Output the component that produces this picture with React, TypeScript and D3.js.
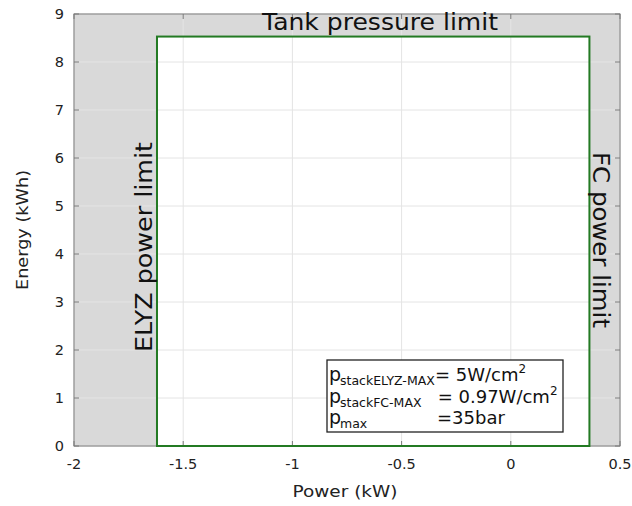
import React from "react";
import * as d3 from "d3";

const xTicks = [-2, -1.5, -1, -0.5, 0, 0.5];
const yTicks = [0, 1, 2, 3, 4, 5, 6, 7, 8, 9];
const xDomain = [-2, 0.5];
const yDomain = [0, 9];
const powerLimits = [-1.62, 0.36]; // ELYZ, FC (kW)
const energyLimit = [0, 8.53]; // kWh
const legendRows = [
  { sub: "stackELYZ-MAX", val: "= 5W/cm", sup: "2", vx: 435 },
  { sub: "stackFC-MAX", val: " = 0.97W/cm", sup: "2", vx: 432 },
  { sub: "max", val: "=35bar", sup: "", vx: 437 },
];

const W = 632, H = 506;
const L = 74, R = 620, T = 14, B = 446;
const font = "DejaVu Sans, sans-serif";

export default function App() {
  const x = d3.scaleLinear().domain(xDomain).range([L, R]);
  const y = d3.scaleLinear().domain(yDomain).range([B, T]);
  const rx0 = x(powerLimits[0]), rx1 = x(powerLimits[1]);
  const ry0 = y(energyLimit[0]), ry1 = y(energyLimit[1]);
  const fmt = (v: number) => String(v);
  return (
    <svg width={W} height={H} style={{ position: "absolute", left: 0, top: 0, background: "#fff" }} fontFamily={font}>
      <rect x={L} y={T} width={R - L} height={B - T} fill="#d9d9d9" />
      <rect x={rx0} y={ry1} width={rx1 - rx0} height={ry0 - ry1} fill="#ffffff" />
      {xTicks.map((t) => (
        <line key={"gx" + t} x1={x(t)} x2={x(t)} y1={T} y2={B} stroke="#e4e4e4" strokeWidth={1} />
      ))}
      {yTicks.map((t) => (
        <line key={"gy" + t} x1={L} x2={R} y1={y(t)} y2={y(t)} stroke="#e4e4e4" strokeWidth={1} />
      ))}
      <rect x={L} y={T} width={R - L} height={B - T} fill="none" stroke="#7a7a7a" strokeWidth={1} />
      {xTicks.map((t) => (
        <g key={"tx" + t}>
          <line x1={x(t)} x2={x(t)} y1={B} y2={B - 5} stroke="#7a7a7a" />
          <line x1={x(t)} x2={x(t)} y1={T} y2={T + 5} stroke="#7a7a7a" />
          <text x={x(t)} y={469} fontSize={14.5} textAnchor="middle" fill="#222">{fmt(t)}</text>
        </g>
      ))}
      {yTicks.map((t) => (
        <g key={"ty" + t}>
          <line x1={L} x2={L + 5} y1={y(t)} y2={y(t)} stroke="#7a7a7a" />
          <line x1={R} x2={R - 5} y1={y(t)} y2={y(t)} stroke="#7a7a7a" />
          <text x={64} y={y(t) + 5} fontSize={14.5} textAnchor="end" fill="#222">{fmt(t)}</text>
        </g>
      ))}
      <rect x={rx0} y={ry1} width={rx1 - rx0} height={ry0 - ry1} fill="none" stroke="#237a23" strokeWidth={2} />
      <text x={380} y={30} fontSize={23} textAnchor="middle" fill="#111" textLength={236} lengthAdjust="spacingAndGlyphs">Tank pressure limit</text>
      <text transform={`translate(${152},${247}) rotate(-90)`} fontSize={23.5} textAnchor="middle" fill="#111" textLength={210} lengthAdjust="spacingAndGlyphs">ELYZ power limit</text>
      <text transform={`translate(${593},${240}) rotate(90)`} fontSize={23.5} textAnchor="middle" fill="#111" textLength={176} lengthAdjust="spacingAndGlyphs">FC power limit</text>
      <text x={345} y={497} fontSize={16} textAnchor="middle" fill="#222" textLength={105} lengthAdjust="spacingAndGlyphs">Power (kW)</text>
      <text transform={`translate(${28},${230}) rotate(-90)`} fontSize={16} textAnchor="middle" fill="#222" textLength={120} lengthAdjust="spacingAndGlyphs">Energy (kWh)</text>
      <rect x={327} y={360} width={236} height={72} fill="#fff" stroke="#222" strokeWidth={1.3} />
      {legendRows.map((r, i) => (
        <g key={"lg" + i}>
          <text x={329} y={381 + i * 21.5} fontSize={19} fill="#111">p</text>
          <text x={340} y={385 + i * 21.5} fontSize={12.5} fill="#111">{r.sub}</text>
          <text x={r.vx} y={381 + i * 21.5} fontSize={18} fill="#111" xmlSpace="preserve">
            {r.val}
            {r.sup && <tspan fontSize={12} dy={-8}>{r.sup}</tspan>}
          </text>
        </g>
      ))}
    </svg>
  );
}
